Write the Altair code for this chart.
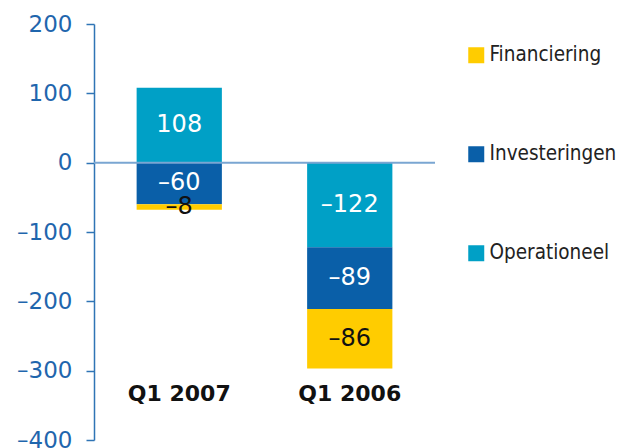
import altair as alt
import pandas as pd

quarters = ["Q1 2007", "Q1 2006"]
series = ["Operationeel", "Investeringen", "Financiering"]
values_2007 = [108, -60, -8]
values_2006 = [-122, -89, -86]
legend_order = ["Financiering", "Investeringen", "Operationeel"]
colors = ["#FFCC00", "#0A5FA8", "#00A0C6"]
y_ticks = [-400, -300, -200, -100, 0, 100, 200]

rows = []
for q, vals in zip(quarters, [values_2007, values_2006]):
    for i, (s, v) in enumerate(zip(series, vals)):
        rows.append({"quarter": q, "series": s, "value": v, "order": i})
df = pd.DataFrame(rows)

FONT = "DejaVu Sans"
FONT_C = "DejaVu Sans Condensed"

base = alt.Chart(df).transform_stack(
    stack="value", groupby=["quarter"], as_=["y0", "y1"],
    sort=[alt.SortField("order", order="ascending")]
).transform_calculate(
    mid="(datum.y0 + datum.y1) / 2",
    label="(datum.value < 0 ? '\u2013' : '') + abs(datum.value)"
)

x_enc = alt.X("quarter:N", sort=quarters, title=None,
              scale=alt.Scale(paddingInner=0.5, paddingOuter=0.25),
              axis=alt.Axis(domain=False, ticks=False, labelAngle=0,
                            labelFont=FONT, labelFontSize=22, labelFontWeight="bold",
                            labelColor="#111111", labelPadding=-57))
y_scale = alt.Scale(domain=[-400, 200], nice=False)

bars = base.mark_bar().encode(
    x=x_enc,
    y=alt.Y("y0:Q", scale=y_scale, title=None,
            axis=alt.Axis(values=y_ticks, grid=False, domainColor="#2F74B5",
                          tickColor="#2F74B5", tickSize=8, labelPadding=14,
                          labelFont=FONT, labelFontSize=23, labelColor="#1F66AD",
                          domainWidth=1.5, tickWidth=1.5,
                          labelExpr="replace(datum.label, '\u2212', '\u2013')")),
    y2="y1:Q",
    color=alt.Color("series:N", scale=alt.Scale(domain=legend_order, range=colors),
                    legend=alt.Legend(title=None, orient="none", legendX=372, legendY=21,
                                      symbolType="square", symbolSize=256,
                                      symbolStrokeWidth=0, rowPadding=78,
                                      labelFont=FONT_C, labelFontSize=20.5,
                                      labelColor="#222222", labelOffset=3)),
)

zero = alt.Chart(pd.DataFrame({"y": [0]})).mark_rule(color="#7AA6D2", strokeWidth=2).encode(
    y=alt.Y("y:Q", scale=y_scale)
)

labels = base.mark_text(font=FONT, fontSize=24, baseline="middle").encode(
    x=alt.X("quarter:N", sort=quarters),
    y=alt.Y("mid:Q", scale=y_scale),
    text=alt.Text("label:N"),
    color=alt.condition(alt.datum.series == "Financiering", alt.value("#111111"), alt.value("#FFFFFF")),
)

chart = alt.layer(bars, zero, labels).properties(
    width=341, height=416,
    autosize=alt.AutoSizeParams(type="none"),
    padding={"left": 86, "top": 16, "right": 183, "bottom": 8}
).configure_view(stroke=None)

chart.save("out.html", embed_options={"renderer": "svg", "actions": False})
